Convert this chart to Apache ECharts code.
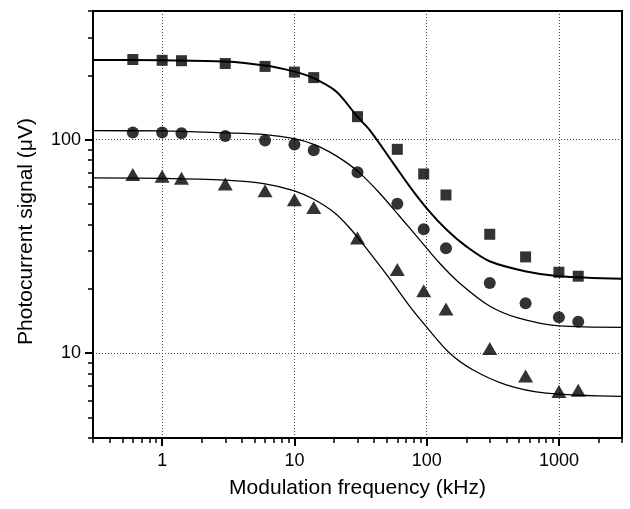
<!DOCTYPE html>
<html><head><meta charset="utf-8">
<script src="https://cdn.jsdelivr.net/npm/echarts@6/dist/echarts.min.js"></script>
<style>html,body{margin:0;padding:0;background:#fff}#c{width:630px;height:509px}</style>
</head><body><div id="c"></div>
<script>
// Measured data (kHz, µV)
const freq = [0.6, 1, 1.4, 3, 6, 10, 14, 30, 60, 95, 140, 300, 560, 1000, 1400];
const squareY = [237, 235, 234, 227, 220, 207, 195, 128, 90, 69, 55, 36, 28.2, 23.9, 22.9];
const circleY = [108, 108, 107, 104, 99, 94.7, 89, 70.3, 50, 38, 31, 21.3, 17.1, 14.7, 14.0];
const triangleY = [68.5, 67.3, 65.9, 61.9, 57.6, 52.3, 48, 34.6, 24.6, 19.6, 16.1, 10.5, 7.8, 6.6, 6.7];

// Fitted curves
const squareFitX = [0.3, 1, 3, 6, 10, 13.7, 20.7, 29.9, 37, 55.5, 74.3, 102, 141, 199, 299, 566, 1000, 3000];
const squareFitY = [236, 235, 232, 222, 208, 195, 168, 128, 111, 78, 60.4, 47, 37.9, 31.6, 26.9, 24.1, 22.9, 22.3];
const circleFitX = [0.3, 1, 3, 6, 10, 14, 18.4, 24, 31.1, 44, 62.4, 88.3, 125, 177, 299, 490, 1000, 3000];
const circleFitY = [110, 109.8, 107.5, 105.5, 101, 95, 87.5, 79, 69.8, 56.2, 43.7, 34, 26.4, 21.3, 16.6, 14.6, 13.4, 13.2];
const triangleFitX = [0.3, 1, 3, 6, 10, 14, 20, 26.2, 34.9, 52.5, 74.3, 99.3, 149, 223, 400, 803, 3000];
const triangleFitY = [66.1, 65.8, 64.5, 62, 57.5, 52.5, 45.5, 38.5, 31, 22.3, 16.6, 13.3, 10, 8.35, 7.1, 6.49, 6.26];

// Axis ticks
const xMajor = [1, 10, 100, 1000];
const xMinor = [0.3, 0.4, 0.5, 0.6, 0.7, 0.8, 0.9, 2, 3, 4, 5, 6, 7, 8, 9, 20, 30, 40, 50, 60, 70, 80, 90,
  200, 300, 400, 500, 600, 700, 800, 900, 2000, 3000];
const yMajor = [10, 100];
const yMinor = [4, 5, 6, 7, 8, 9, 20, 30, 40, 50, 60, 70, 80, 90, 200, 300, 400];

const zip = (a, b) => a.map((v, i) => [v, b[i]]);
const FONT = '"Liberation Sans", Arial, Helvetica, sans-serif';
const fmt = v => String(Math.round(v * 1000) / 1000);

const chart = echarts.init(document.getElementById('c'));
chart.setOption({
  animation: false,
  backgroundColor: '#fff',
  grid: { left: 93, right: 8, top: 11, bottom: 71, show: true, borderColor: '#000', borderWidth: 2, containLabel: false },
  xAxis: [
    {
      type: 'log', logBase: 10, min: 0.3, max: 3000, position: 'bottom',
      name: 'Modulation frequency (kHz)', nameLocation: 'middle', nameGap: 40,
      nameTextStyle: { fontFamily: FONT, fontSize: 21, color: '#000' },
      axisLine: { lineStyle: { color: '#000', width: 2 } },
      axisTick: { customValues: xMajor, length: 8, lineStyle: { color: '#000', width: 2 } },
      axisLabel: { customValues: xMajor, formatter: fmt, fontFamily: FONT, fontSize: 18, color: '#000', margin: 14 },
      splitLine: { show: true, lineStyle: { color: '#444', width: 1, type: [1, 2] } },
      minorTick: { show: false }
    },
    {
      type: 'log', logBase: 10, min: 0.3, max: 3000, position: 'bottom',
      axisLine: { show: false },
      axisTick: { customValues: xMinor, length: 5, lineStyle: { color: '#000', width: 1.5 } },
      axisLabel: { show: false },
      splitLine: { show: false }
    }
  ],
  yAxis: [
    {
      type: 'log', logBase: 10, min: 4, max: 400, position: 'left',
      name: 'Photocurrent signal (μV)', nameLocation: 'middle', nameGap: 56,
      nameTextStyle: { fontFamily: FONT, fontSize: 21, color: '#000', padding: [0, 14, 0, 0] },
      axisLine: { lineStyle: { color: '#000', width: 2 } },
      axisTick: { customValues: yMajor, length: 8, lineStyle: { color: '#000', width: 2 } },
      axisLabel: { customValues: yMajor, formatter: fmt, fontFamily: FONT, fontSize: 18, color: '#000', margin: 12 },
      splitLine: { show: true, lineStyle: { color: '#444', width: 1, type: [1, 2] } }
    },
    {
      type: 'log', logBase: 10, min: 4, max: 400, position: 'left',
      axisLine: { show: false },
      axisTick: { customValues: yMinor, length: 5, lineStyle: { color: '#000', width: 1.5 } },
      axisLabel: { show: false },
      splitLine: { show: false }
    }
  ],
  series: [
    { type: 'line', data: zip(squareFitX, squareFitY), smooth: 0.3, showSymbol: false, symbol: 'none',
      lineStyle: { color: '#000', width: 2 }, z: 2 },
    { type: 'line', data: zip(circleFitX, circleFitY), smooth: 0.3, showSymbol: false, symbol: 'none',
      lineStyle: { color: '#000', width: 1.3 }, z: 2 },
    { type: 'line', data: zip(triangleFitX, triangleFitY), smooth: 0.3, showSymbol: false, symbol: 'none',
      lineStyle: { color: '#000', width: 1.3 }, z: 2 },
    { type: 'scatter', data: zip(freq, squareY), symbol: 'rect', symbolSize: 11,
      itemStyle: { color: '#000' }, z: 3 },
    { type: 'scatter', data: zip(freq, circleY), symbol: 'circle', symbolSize: 12,
      itemStyle: { color: '#000' }, z: 3 },
    { type: 'scatter', data: zip(freq, triangleY), symbol: 'triangle', symbolSize: [15, 13],
      itemStyle: { color: '#000' }, z: 3 }
  ]
});
</script>
</body></html>
